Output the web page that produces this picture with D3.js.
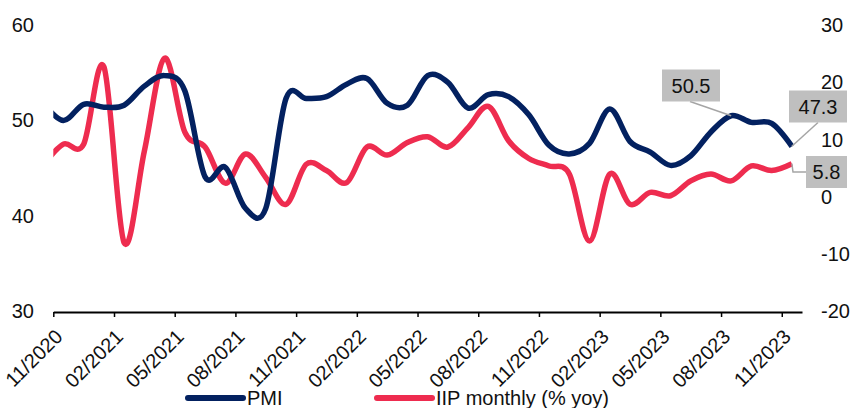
<!DOCTYPE html>
<head>
  <meta charset="utf-8">
  <script src="https://d3js.org/d3.v7.min.js"></script>
  <style>
    body { margin:0; background:#fff; }
    text { font-family: "Liberation Sans", Arial, sans-serif; fill:#111; }
  </style>
</head>
<body>
<script>
// monthly data, Oct 2020 .. Nov 2023 (first month falls just left of the axis and is clipped)
var months = ["10/2020","11/2020","12/2020","01/2021","02/2021","03/2021","04/2021","05/2021","06/2021",
  "07/2021","08/2021","09/2021","10/2021","11/2021","12/2021","01/2022","02/2022","03/2022","04/2022",
  "05/2022","06/2022","07/2022","08/2022","09/2022","10/2022","11/2022","12/2022","01/2023","02/2023",
  "03/2023","04/2023","05/2023","06/2023","07/2023","08/2023","09/2023","10/2023","11/2023"];
var pmi = [51.8,50.0,51.7,51.4,51.6,53.6,54.7,53.1,44.1,45.1,40.8,40.8,52.3,52.3,52.5,53.8,54.4,51.8,
  51.6,54.7,54.0,51.3,52.7,52.5,50.6,47.4,46.5,47.6,51.2,47.8,46.7,45.3,46.3,48.8,50.5,49.8,49.7,47.3];
var iip = [5.5,9.2,9.2,22.7,-8.0,8.0,24.2,11.3,8.7,2.4,7.5,3.4,-1.3,5.7,4.6,2.5,8.7,7.3,9.5,10.5,8.7,
  12.1,15.8,9.8,6.7,5.4,4.0,-7.7,4.0,-1.3,0.8,0.2,2.8,4.0,2.8,5.4,4.6,5.8];
var tickLabels = ["11/2020","02/2021","05/2021","08/2021","11/2021","02/2022","05/2022",
  "08/2022","11/2022","02/2023","05/2023","08/2023","11/2023"];
var leftTicks = [30,40,50,60];
var rightTicks = [-20,-10,0,10,20,30];

var width = 852, height = 408;
var navy = "#032160", red = "#ee2c4f";

var svg = d3.select("body").append("svg")
  .attr("width", width)
  .attr("height", height);

// month index: 0 = start of Nov 2020
var x = d3.scaleLinear().domain([0, 37]).range([53.3, 802]);
var yL = d3.scaleLinear().domain([30, 60]).range([311.5, 25]);
var yR = d3.scaleLinear().domain([-20, 30]).range([311.5, 25]);
// points sit mid-month
function px(d, i) { return x(i - 0.5); }

svg.append("defs").append("clipPath").attr("id", "plot")
  .append("rect").attr("x", x(0)).attr("y", 0).attr("width", x(37) - x(0)).attr("height", 311);

// bottom axis
var xAxis = d3.axisBottom(x)
  .tickValues(d3.range(0, 37, 3))
  .tickSize(5)
  .tickSizeOuter(0)
  .tickFormat(function(d) { return tickLabels[d / 3]; });
var gx = svg.append("g").attr("transform", "translate(0,312)").call(xAxis);
gx.select(".domain").attr("stroke", "#000").attr("stroke-width", 2);
gx.selectAll(".tick line").attr("stroke", "#000").attr("stroke-width", 1.5);
gx.selectAll(".tick text")
  .attr("font-size", 20)
  .attr("text-anchor", "end")
  .attr("y", 0).attr("dy", "0.35em")
  .attr("transform", "translate(5,21) rotate(-45)");

var plain = function(d) { return String(d); };
var gl = svg.append("g").attr("transform", "translate(37,0)")
  .call(d3.axisLeft(yL).tickValues(leftTicks).tickSize(0).tickPadding(3).tickFormat(plain));
var gr = svg.append("g").attr("transform", "translate(818,0)")
  .call(d3.axisRight(yR).tickValues(rightTicks).tickSize(0).tickPadding(3).tickFormat(plain));
[gl, gr].forEach(function(g) {
  g.select(".domain").remove();
  g.selectAll("text").attr("font-size", 20);
});

var curve = d3.curveCatmullRom.alpha(0);
var linePmi = d3.line().x(px).y(function(d) { return yL(d); }).curve(curve);
var lineIip = d3.line().x(px).y(function(d) { return yR(d); }).curve(curve);

var lines = svg.append("g").attr("clip-path", "url(#plot)")
  .style("fill", "none").style("stroke-width", 5.5).style("stroke-linejoin", "round");
lines.append("path").attr("d", lineIip(iip)).style("stroke", red);
lines.append("path").attr("d", linePmi(pmi)).style("stroke", navy);

// data labels
var last = months.length - 1;
var aug23 = months.indexOf("08/2023");
var labels = [
  {text: pmi[aug23].toFixed(1), px: px(0, aug23), py: yL(pmi[aug23]), cx: 691, cy: 85.5, w: 58, h: 32,
   leader: [[690, 101.5]]},
  {text: pmi[last].toFixed(1), px: px(0, last), py: yL(pmi[last]), cx: 818, cy: 106.5, w: 58, h: 32,
   leader: [[818, 122.5]]},
  {text: iip[last].toFixed(1), px: px(0, last), py: yR(iip[last]), cx: 826.5, cy: 172, w: 41, h: 32,
   leader: [[806, 172], [793, 172]]}
];
labels.forEach(function(l) {
  var pts = l.leader.concat([[l.px, l.py]]);
  svg.append("path").attr("d", d3.line()(pts))
    .attr("fill", "none").attr("stroke", "#a5a5a5").attr("stroke-width", 1.5);
  svg.append("rect").attr("x", l.cx - l.w / 2).attr("y", l.cy - l.h / 2)
    .attr("width", l.w).attr("height", l.h).attr("fill", "#bfbfbf");
  svg.append("text").attr("x", l.cx).attr("y", l.cy).attr("dy", "0.36em")
    .attr("text-anchor", "middle").attr("font-size", 20).text(l.text);
});

// legend
var legend = [{name: "PMI", color: navy, x: 188}, {name: "IIP monthly (% yoy)", color: red, x: 377}];
var lg = svg.append("g").selectAll("g").data(legend).enter().append("g")
  .attr("transform", function(d) { return "translate(" + d.x + ",398)"; });
lg.append("line").attr("x1", 0).attr("x2", 55).attr("y1", 0).attr("y2", 0)
  .attr("stroke", function(d) { return d.color; }).attr("stroke-width", 6).attr("stroke-linecap", "round");
lg.append("text").attr("x", 59).attr("y", 7).attr("font-size", 20).text(function(d) { return d.name; });
</script>
</body>
</html>
